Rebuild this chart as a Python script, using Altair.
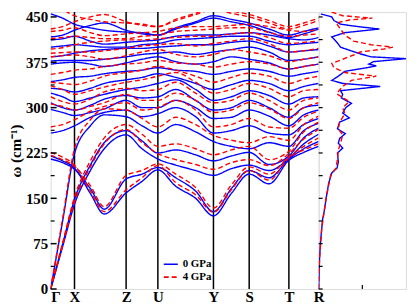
import altair as alt
import pandas as pd

# k-path positions (arbitrary path units) and high-symmetry points
K = [0, 12, 24, 40, 54, 76, 92, 108, 126, 146, 164, 182, 200, 220, 240, 255, 270]
HS_POS = [0, 24, 76, 108, 164, 200, 240, 270]
HS_LAB = ["Γ", "X", "Z", "U", "Y", "S", "T", "R"]

# 0 GPa phonon bands (cm^-1) sampled at K
B01 = [220, 212, 200, 158, 124, 159, 178, 197, 170, 150, 121, 158, 190, 174, 213, 226, 236]
B02 = [215, 209, 198, 166, 132, 182, 190, 201, 184, 162, 128, 166, 196, 184, 215, 232, 244]
B03 = [0, 70, 140, 196, 232, 255, 232, 215, 205, 196, 188, 199, 205, 196, 216, 240, 256]
B04 = [0, 74, 148, 205, 242, 262, 245, 225, 230, 222, 212, 220, 226, 206, 220, 250, 266]
B05 = [0, 112, 224, 270, 288, 285, 270, 258, 272, 260, 244, 236, 232, 242, 236, 262, 274]
B06 = [258, 262, 270, 284, 292, 296, 285, 290, 300, 285, 258, 262, 270, 258, 255, 272, 282]
B07 = [297, 292, 287, 292, 298, 312, 300, 300, 312, 300, 282, 284, 296, 286, 270, 288, 296]
B08 = [308, 300, 296, 304, 314, 320, 316, 318, 330, 312, 296, 300, 312, 300, 284, 300, 304]
B09 = [324, 318, 310, 316, 322, 330, 334, 340, 346, 330, 312, 318, 328, 320, 306, 316, 318]
B10 = [332, 330, 326, 332, 340, 346, 350, 356, 350, 340, 330, 338, 345, 340, 328, 335, 340]
B11 = [343, 346, 350, 352, 356, 360, 362, 366, 362, 360, 355, 360, 364, 360, 352, 356, 360]
B12 = [372, 374, 375, 372, 368, 374, 380, 384, 376, 372, 376, 384, 380, 374, 364, 368, 372]
B13 = [377, 378, 378, 378, 380, 384, 388, 390, 392, 388, 392, 396, 400, 392, 378, 380, 384]
B14 = [384, 386, 390, 394, 396, 398, 398, 400, 402, 404, 404, 408, 410, 402, 392, 394, 396]
B15 = [400, 402, 404, 402, 400, 400, 404, 406, 412, 414, 416, 418, 418, 410, 404, 406, 408]
B16 = [412, 414, 418, 410, 405, 408, 410, 412, 418, 420, 420, 422, 424, 420, 414, 412, 416]
B17 = [417, 420, 428, 436, 440, 428, 422, 420, 430, 440, 448, 442, 436, 425, 416, 422, 430]
B18 = [455, 448, 438, 432, 428, 425, 424, 420, 432, 442, 452, 446, 440, 430, 420, 426, 432]
BLUE = [B01, B02, B03, B04, B05, B06, B07, B08, B09, B10, B11, B12, B13, B14, B15, B16, B17, B18]

# 4 GPa phonon bands
R01 = [226, 218, 205, 162, 128, 164, 184, 204, 176, 156, 127, 164, 196, 180, 217, 230, 240]
R02 = [221, 214, 203, 171, 136, 188, 196, 207, 190, 168, 134, 172, 202, 190, 219, 236, 250]
R03 = [0, 72, 144, 202, 240, 264, 242, 224, 214, 206, 198, 209, 214, 204, 224, 248, 264]
R04 = [0, 76, 152, 212, 250, 272, 256, 236, 240, 232, 222, 230, 236, 214, 228, 260, 276]
R05 = [0, 116, 232, 280, 298, 296, 282, 268, 284, 272, 254, 246, 242, 252, 246, 272, 286]
R06 = [268, 272, 280, 294, 302, 308, 296, 300, 312, 296, 268, 272, 282, 268, 266, 284, 294]
R07 = [306, 302, 296, 302, 308, 322, 312, 312, 324, 312, 292, 296, 308, 298, 282, 300, 308]
R08 = [318, 310, 306, 314, 326, 332, 328, 330, 342, 324, 308, 312, 324, 312, 296, 312, 316]
R09 = [336, 330, 322, 328, 334, 342, 346, 352, 358, 342, 324, 330, 340, 332, 318, 328, 330]
R10 = [342, 340, 338, 344, 352, 358, 362, 368, 362, 352, 342, 350, 357, 352, 340, 347, 352]
R11 = [355, 358, 362, 364, 368, 372, 374, 378, 374, 372, 367, 372, 376, 372, 364, 368, 372]
R12 = [384, 386, 387, 384, 380, 386, 392, 396, 388, 384, 388, 396, 392, 386, 376, 380, 384]
R13 = [390, 391, 392, 392, 394, 398, 402, 404, 406, 402, 406, 410, 414, 406, 392, 394, 398]
R14 = [397, 399, 404, 408, 410, 412, 412, 414, 416, 418, 418, 422, 424, 416, 406, 408, 410]
R15 = [414, 416, 418, 416, 414, 414, 418, 420, 426, 428, 430, 432, 432, 424, 418, 420, 422]
R16 = [426, 428, 432, 424, 419, 422, 424, 426, 432, 434, 434, 436, 438, 434, 428, 426, 430]
R17 = [430, 434, 442, 450, 454, 442, 436, 434, 444, 454, 462, 456, 450, 440, 430, 436, 444]
R18 = [470, 462, 452, 446, 442, 440, 438, 434, 446, 456, 466, 460, 454, 444, 434, 440, 448]
RED = [R01, R02, R03, R04, R05, R06, R07, R08, R09, R10, R11, R12, R13, R14, R15, R16, R17, R18]

# Phonon DOS (arbitrary units)
DOS0_W = [0, 25, 50, 75, 100, 115, 130, 154, 175, 192, 200, 210, 225, 233, 241, 249, 257, 265,
          276, 283, 291, 300, 307, 316, 322, 328, 335, 340, 345, 352, 360, 366, 369, 372, 376,
          381, 384, 389, 395, 400, 405, 411, 417, 424, 430, 434, 438, 444, 450, 455]
DOS0_V = [0, 0.01, 0.02, 0.04, 0.07, 0.09, 0.13, 0.18, 0.23, 0.30, 0.42, 0.45, 0.43, 0.55, 0.45,
          0.48, 0.61, 0.43, 0.48, 0.70, 0.55, 0.62, 0.75, 0.52, 0.55, 0.50, 1.41, 0.55, 0.30,
          0.45, 0.60, 1.10, 1.32, 1.15, 1.25, 2.0, 1.2, 0.95, 0.70, 0.50, 0.45, 0.38, 0.30, 0.60,
          1.39, 0.90, 0.50, 0.35, 0.30, 0.05]
DOS4_W = [0, 50, 100, 150, 190, 200, 215, 230, 241, 255, 265, 276, 290, 300, 310, 323, 335, 345,
          352, 358, 366, 373, 380, 387, 392, 397, 400, 404, 410, 420, 430, 440, 445, 448, 452,
          458, 466]
DOS4_V = [0, 0.02, 0.07, 0.17, 0.28, 0.40, 0.43, 0.45, 0.50, 0.55, 0.45, 0.48, 0.60, 0.55, 0.70,
          0.41, 0.55, 0.75, 1.32, 0.60, 0.35, 0.30, 0.55, 0.80, 0.95, 1.50, 1.70, 1.20, 0.80,
          0.60, 0.50, 0.40, 0.70, 1.23, 0.55, 0.30, 0.09]

TICKS_MAJOR = [0, 75, 150, 225, 300, 375, 450]
TICKS_MINOR = [37.5, 112.5, 187.5, 262.5, 337.5, 412.5]

rows = []
for i, b in enumerate(BLUE):
    for k, w in zip(K, b):
        rows.append({"k": k, "w": w, "p": "0 GPa", "band": f"b{i}"})
for i, b in enumerate(RED):
    for k, w in zip(K, b):
        rows.append({"k": k, "w": w, "p": "4 GPa", "band": f"r{i}"})
bands = pd.DataFrame(rows)

dos = pd.concat([
    pd.DataFrame({"w": DOS0_W, "dos": DOS0_V, "p": "0 GPa"}),
    pd.DataFrame({"w": DOS4_W, "dos": DOS4_V, "p": "4 GPa"}),
])

W_L, W_R, H = 270, 88, 279
FONT = "Liberation Serif"
YMAX = 458

ys = alt.Scale(domain=[0, YMAX], nice=False, zero=True)
xs = alt.Scale(domain=[0, 270], nice=False)
cs = alt.Scale(domain=["0 GPa", "4 GPa"], range=["#0000ff", "#ff0000"])
ds = alt.Scale(domain=["0 GPa", "4 GPa"], range=[[1, 0], [5, 3]])

lab_expr = " : ".join(
    f"datum.value == {p} ? '{l}'" for p, l in zip(HS_POS, HS_LAB)
) + " : ''"

yaxis = alt.Axis(values=TICKS_MAJOR, title="ω (cm⁻¹)", titleFont=FONT, titleFontSize=15,
                 titleFontWeight="bold", titlePadding=2, labelFont=FONT, labelFontSize=15,
                 labelFontWeight="bold", labelColor="black", titleColor="black",
                 ticks=False, domain=False, grid=False, labelPadding=3)
xaxis = alt.Axis(values=HS_POS, labelExpr=lab_expr, title=None, labelFont=FONT,
                 labelFontSize=15, labelFontWeight="bold", labelColor="black", ticks=False,
                 domain=False, grid=False, labelPadding=1, labelFlush=False,
                 labelOverlap=False, labelBound=False,
                 labelAlign={"expr": "datum.value == 0 ? 'left' : 'center'"})

legend = alt.Legend(title=None, orient="none", legendX=113, legendY=246, symbolType="stroke",
                    symbolSize=200, symbolStrokeWidth=1.6, labelFont=FONT, labelFontSize=11,
                    labelFontWeight="bold", labelColor="black", rowPadding=0)

band_layer = alt.Chart(bands).mark_line(strokeWidth=1.4, interpolate="monotone", clip=True).encode(
    x=alt.X("k:Q", scale=xs, axis=xaxis),
    y=alt.Y("w:Q", scale=ys, axis=yaxis),
    color=alt.Color("p:N", scale=cs, legend=legend),
    strokeDash=alt.StrokeDash("p:N", scale=ds, legend=legend),
    detail="band:N",
)

hs_df = pd.DataFrame({"k": HS_POS[1:-1]})
hs_layer = alt.Chart(hs_df).mark_rule(color="black", strokeWidth=1.5).encode(
    x=alt.X("k:Q", scale=xs, axis=xaxis)
)

tmaj = pd.DataFrame({"w": TICKS_MAJOR})
tmin = pd.DataFrame({"w": TICKS_MINOR})
tick_major = alt.Chart(tmaj).mark_rule(color="black", strokeWidth=1.5).encode(
    y=alt.Y("w:Q", scale=ys, axis=yaxis), x=alt.value(0), x2=alt.value(6))
tick_minor = alt.Chart(tmin).mark_rule(color="black", strokeWidth=1.2).encode(
    y=alt.Y("w:Q", scale=ys, axis=yaxis), x=alt.value(0), x2=alt.value(4))

left = alt.layer(hs_layer, band_layer, tick_major, tick_minor).properties(width=W_L, height=H)

dxs = alt.Scale(domain=[0, 2], nice=False)
dos_layer = alt.Chart(dos).mark_line(strokeWidth=1.4, clip=True).encode(
    x=alt.X("dos:Q", scale=dxs, axis=None),
    y=alt.Y("w:Q", scale=ys, axis=None),
    color=alt.Color("p:N", scale=cs, legend=legend),
    strokeDash=alt.StrokeDash("p:N", scale=ds, legend=legend),
    order=alt.Order("w:Q"),
)
tall = pd.DataFrame({"w": TICKS_MAJOR + TICKS_MINOR})
dtick = alt.Chart(tall).mark_rule(color="black", strokeWidth=1.2).encode(
    y=alt.Y("w:Q", scale=ys, axis=None), x=alt.value(0), x2=alt.value(4))
btick = alt.Chart(pd.DataFrame({"dos": [1]})).mark_rule(color="black", strokeWidth=1.2).encode(
    x=alt.X("dos:Q", scale=dxs, axis=None), y=alt.value(H), y2=alt.value(H - 4))

right = alt.layer(dos_layer, dtick, btick).properties(width=W_R, height=H)

chart = alt.hconcat(left, right, spacing=0, bounds="flush").properties(
    padding={"left": 0, "top": 0, "right": 0, "bottom": 0}
).configure_view(stroke="black", strokeWidth=1.5).configure(background="white")

chart.save("out.html", embed_options={"renderer": "svg", "actions": False})
